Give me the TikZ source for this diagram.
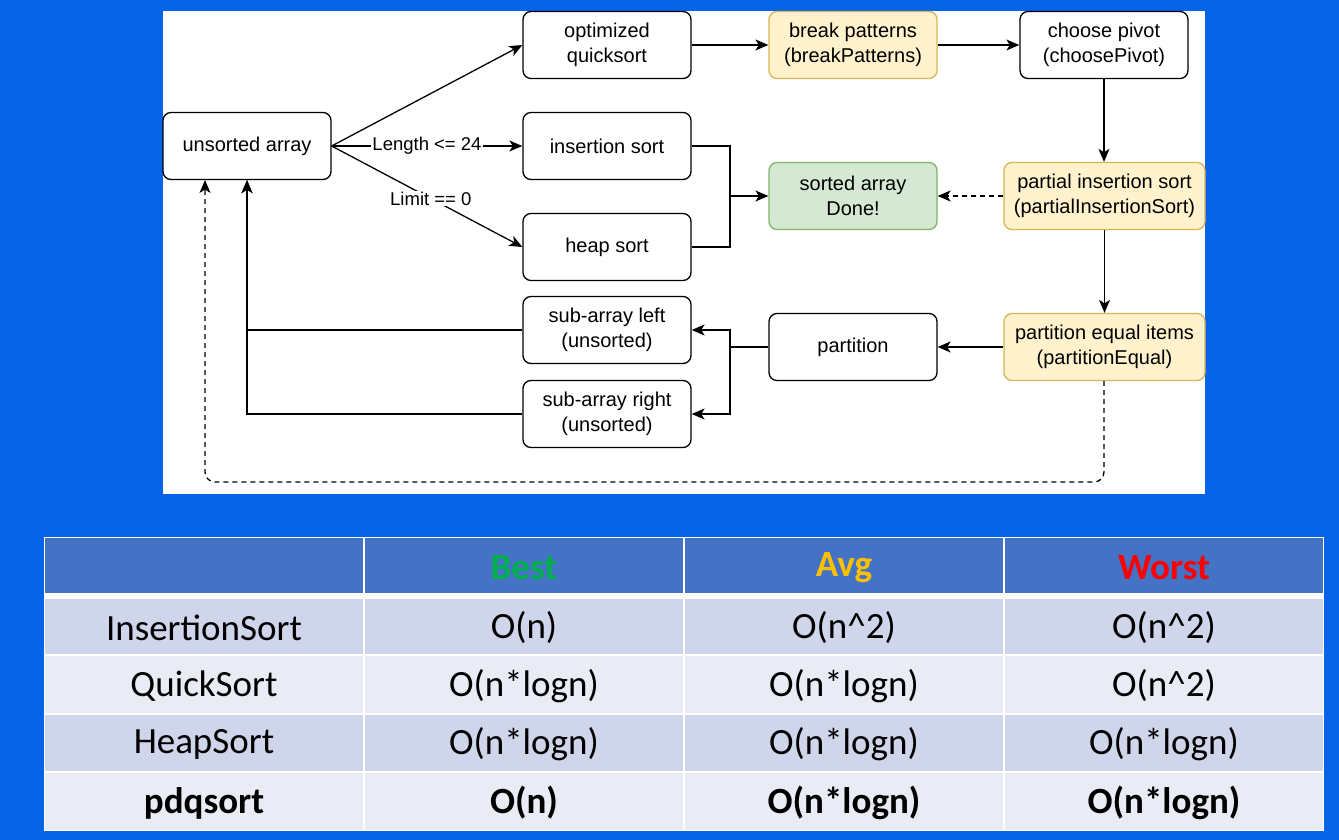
\documentclass[tikz,border=0pt]{standalone}
\usepackage{fontspec}
\usetikzlibrary{arrows.meta}
\newfontfamily\dgfont{Liberation Sans}
\newfontfamily\tbfont{Carlito}
\definecolor{bgblue}{RGB}{5,99,230}
\definecolor{ylfill}{HTML}{FFF2CC}
\definecolor{ylline}{HTML}{D6B656}
\definecolor{grfill}{HTML}{D5E8D4}
\definecolor{grline}{HTML}{82B366}
\definecolor{hdfill}{HTML}{4472C4}
\definecolor{rowa}{HTML}{CFD5EA}
\definecolor{rowb}{HTML}{E9EBF5}
\definecolor{cbest}{HTML}{00B050}
\definecolor{cavg}{HTML}{FFC000}
\definecolor{cworst}{HTML}{FF0000}
\tikzset{
  box/.style={draw=black, line width=1.3pt, rounded corners=8pt, fill=white,
    minimum width=168pt, minimum height=67pt, inner sep=0pt, align=center,
    font=\dgfont\fontsize{20}{25}\selectfont},
  wide/.style={minimum width=201pt},
  yel/.style={fill=ylfill, draw=ylline},
  grn/.style={fill=grfill, draw=grline},
  line/.style={draw=black, line width=1.3pt},
  arr/.style={line, -{Stealth[length=13pt,width=11pt,inset=3.5pt]}},
  lbl/.style={fill=white, inner sep=1pt, font=\dgfont\fontsize{18.5}{22}\selectfont},
  cell/.style={font=\tbfont\fontsize{37}{44}\selectfont, text=black},
  hcell/.style={font=\tbfont\bfseries\fontsize{37}{44}\selectfont},
  bcell/.style={font=\tbfont\bfseries\fontsize{37}{44}\selectfont, text=black}
}
\begin{document}
\begin{tikzpicture}[x=1pt,y=-1pt]
\useasboundingbox (0,0) rectangle (1339,840);
\fill[bgblue] (0,0) rectangle (1339,840);
% diagram panel
\fill[white] (163,11) rectangle (1205,494);

% nodes
\node[box] (ua) at (247,146) {unsorted array};
\node[box] (oq) at (607,45) {optimized\\quicksort};
\node[box] (is) at (607,146) {insertion sort};
\node[box] (hs) at (607,247) {heap sort};
\node[box,yel] (bp) at (853,45) {break patterns\\(breakPatterns)};
\node[box] (cp) at (1104,45) {choose pivot\\(choosePivot)};
\node[box,grn] (sa) at (853,196) {sorted array\\Done!};
\node[box,yel,wide] (pis) at (1104.5,196) {partial insertion sort\\(partialInsertionSort)};
\node[box,yel,wide] (pe) at (1104.5,347) {partition equal items\\(partitionEqual)};
\node[box] (pt) at (853,347) {partition};
\node[box] (sl) at (607,330) {sub-array left\\(unsorted)};
\node[box] (sr) at (607,414) {sub-array right\\(unsorted)};

\coordinate (j1) at (730,196);
\coordinate (j2) at (730,347);
\coordinate (dl) at (1104,482);
\coordinate (dr) at (205,180);

% connectors
\draw[arr] (ua.east) -- (oq.west);
\draw[arr] (ua.east) -- node[lbl] {Length <= 24} (is.west);
\draw[arr] (ua.east) -- node[lbl, pos=0.52] {Limit == 0} (hs.west);
\draw[arr] (oq) -- (bp);
\draw[arr] (bp) -- (cp);
\draw[arr] (cp.south) -- (cp.south |- pis.north);
\draw[arr, dashed, dash pattern=on 5pt off 4pt] (pis) -- (sa);
\draw[arr] (pis.south) -- (pis.south |- pe.north);
\draw[arr] (pe) -- (pt);
\draw[line] (is.east) -| (j1);
\draw[line] (hs.east) -| (j1);
\draw[arr] (j1) -- (sa.west);
\draw[line] (pt.west) -- (j2);
\draw[arr] (j2) |- (sl.east);
\draw[arr] (j2) |- (sr.east);
\draw[arr] (sl.west) -| (ua.south);
\draw[arr] (sr.west) -| (ua.south);
\draw[arr, dashed, dash pattern=on 5pt off 4pt, rounded corners=10pt] (pe.south -| dl) -- (dl) -| (dr);

% table
\fill[white] (44,537) rectangle (1324,831);
\fill[hdfill] (45,538) rectangle (363,593);
\fill[hdfill] (365,538) rectangle (683,593);
\fill[hdfill] (685,538) rectangle (1003,593);
\fill[hdfill] (1005,538) rectangle (1323,593);
\foreach \ya/\yb/\c in {599/654/rowa, 656/713/rowb, 715/771/rowa, 773/830/rowb}{
  \fill[\c] (45,\ya) rectangle (363,\yb);
  \fill[\c] (365,\ya) rectangle (683,\yb);
  \fill[\c] (685,\ya) rectangle (1003,\yb);
  \fill[\c] (1005,\ya) rectangle (1323,\yb);
}
\node[hcell, text=cbest] (hb) at (524,568) {Best};
\node[hcell, text=cavg] (ha) at (844,568) {Avg};
\node[hcell, text=cworst] (hw) at (1164,568) {Worst};

\node[cell] (r1a) at (204,628) {InsertionSort};
\node[cell] (r1b) at (524,628) {O(n)};
\node[cell] (r1c) at (844,628) {O(n\textasciicircum 2)};
\node[cell] (r1d) at (1164,628) {O(n\textasciicircum 2)};

\node[cell] (r2a) at (204,686) {QuickSort};
\node[cell] (r2b) at (524,686) {O(n*logn)};
\node[cell] (r2c) at (844,686) {O(n*logn)};
\node[cell] (r2d) at (1164,686) {O(n\textasciicircum 2)};

\node[cell] (r3a) at (204,744) {HeapSort};
\node[cell] (r3b) at (524,744) {O(n*logn)};
\node[cell] (r3c) at (844,744) {O(n*logn)};
\node[cell] (r3d) at (1164,744) {O(n*logn)};

\node[bcell] (r4a) at (204,803) {pdqsort};
\node[bcell] (r4b) at (524,803) {O(n)};
\node[bcell] (r4c) at (844,803) {O(n*logn)};
\node[bcell] (r4d) at (1164,803) {O(n*logn)};
\end{tikzpicture}
\end{document}
